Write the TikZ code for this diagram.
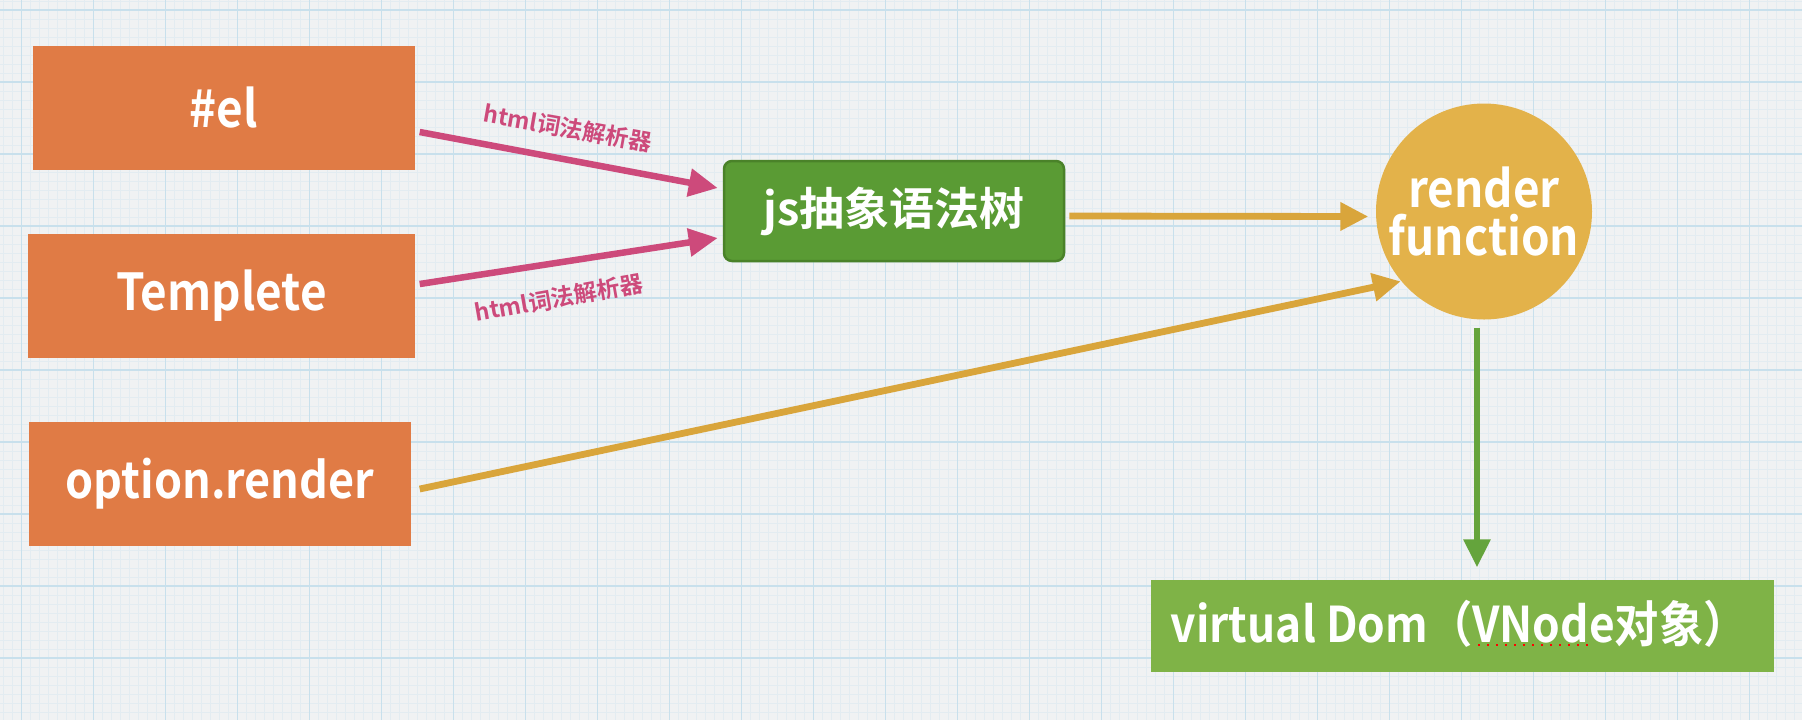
\documentclass[tikz,border=0pt]{standalone}
\usepackage{fontspec}
\setmainfont{Noto Sans CJK SC}[BoldFont={Noto Sans CJK SC Bold}]
\newfontfamily\narrowfont{Noto Sans CJK SC Bold}[FakeStretch=0.9]
\usetikzlibrary{arrows.meta,calc}

\definecolor{paper}{HTML}{F0F2F3}
\definecolor{gridminor}{HTML}{E3ECF1}
\definecolor{gridmajor}{HTML}{C8E0EC}
\definecolor{boxorange}{HTML}{E07B45}
\definecolor{astgreen}{HTML}{5A9B34}
\definecolor{astedge}{HTML}{4A8229}
\definecolor{rendergold}{HTML}{E3B24A}
\definecolor{vdomgreen}{HTML}{7FB347}
\definecolor{lexpink}{HTML}{CD4A7B}
\definecolor{flowgold}{HTML}{D9A53B}
\definecolor{flowgreen}{HTML}{64A43C}

\tikzset{
	srcbox/.style={fill=boxorange, text=white, font=\fontsize{14.5pt}{17pt}\narrowfont, minimum height=12.4mm, inner sep=0pt},
	lexarrow/.style={draw=lexpink, line width=0.65mm, -{Triangle[length=2.9mm, width=2.7mm]}},
	goldarrow/.style={draw=flowgold, line width=0.68mm, -{Triangle[length=2.8mm, width=2.7mm]}},
	lexlabel/.style={text=lexpink, font=\fontsize{6.6pt}{8pt}\selectfont\bfseries, inner sep=0pt}
}

\begin{document}
\begin{tikzpicture}[x=0.1mm, y=-0.1mm]
		\useasboundingbox (0,0) rectangle (1802,720);
		% Paper and grid:
		\fill[paper] (0,0) rectangle (1802,720);
		\foreach \gx in {3.5,12.5,...,1802} \draw[gridminor, line width=0.08mm] (\gx,0) -- (\gx,720);
		\foreach \gy in {1,10,...,720} \draw[gridminor, line width=0.08mm] (0,\gy) -- (1802,\gy);
		\foreach \gx in {21.5,93.5,...,1802} \draw[gridmajor, line width=0.13mm] (\gx,0) -- (\gx,720);
		\foreach \gy in {10,82,...,720} \draw[gridmajor, line width=0.13mm] (0,\gy) -- (1802,\gy);
		% Nodes:
		\node[srcbox, minimum width=38.2mm] (elbox) at (224,108){\#el};
		\node[srcbox, minimum width=38.7mm] (tplbox) at (221.5,296){\raisebox{-0.6mm}{Templete}};
		\node[srcbox, minimum width=38.2mm, font=\fontsize{14.2pt}{17pt}\narrowfont] (optbox) at (220,484){\raisebox{-0.6mm}{option.render}};
		\node[fill=astgreen, draw=astedge, line width=0.25mm, rounded corners=0.8mm, minimum width=34mm, minimum height=10mm, text=white, font=\fontsize{12.8pt}{15pt}\selectfont\bfseries] (jsbox) at (894,211){js抽象语法树};
		\node[circle, fill=rendergold, minimum size=21.6mm, inner sep=0pt, align=center, text=white, font=\fontsize{14.5pt}{13.8pt}\narrowfont] (render) at (1484,211.5){render\\function};
		\node[fill=vdomgreen, minimum width=62.3mm, minimum height=9.2mm, inner sep=0pt] (vdombox) at (1462,626){};
		\node[anchor=west, text=white, font=\fontsize{14pt}{16pt}\narrowfont, inner sep=0pt] (vdomtext) at (1170,624){virtual Dom（VNode对象）};
		\draw[red, dotted, line width=0.2mm] (1478,645) -- (1592,645);
		% Labels:
		\node[lexlabel, rotate=-10] (lbltop) at (568,128){html词法解析器};
		\node[lexlabel, rotate=10] (lblbot) at (559,298){html词法解析器};
		% Connectors:
		\draw[lexarrow] ($(elbox.east)+(4,24)$) -- ($(jsbox.west)+(-5,-23)$);
		\draw[lexarrow] ($(tplbox.east)+(4,-12)$) -- ($(jsbox.west)+(-5,27)$);
		\draw[goldarrow] ($(jsbox.east)+(4,5)$) -- ($(render.west)+(-7,5)$);
		\draw[goldarrow] ($(optbox.east)+(8,5)$) -- (render.220);
		\draw[draw=flowgreen, line width=0.6mm, -{Triangle[length=2.8mm, width=2.6mm]}] ($(render.south)+(-7,8)$) -- ($(vdombox.north)+(15,-12)$);
	\end{tikzpicture}
\end{document}
